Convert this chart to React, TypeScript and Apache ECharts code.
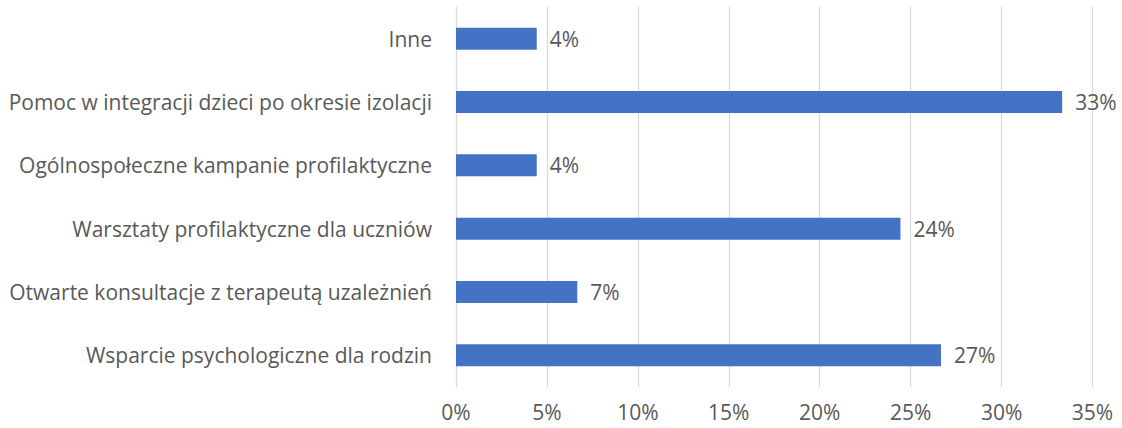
import React, { useEffect, useRef } from "react";
import * as echarts from "echarts";

const categories = [
  "Wsparcie psychologiczne dla rodzin",
  "Otwarte konsultacje z terapeutą uzależnień",
  "Warsztaty profilaktyczne dla uczniów",
  "Ogólnospołeczne kampanie profilaktyczne",
  "Pomoc w integracji dzieci po okresie izolacji",
  "Inne",
];
const values = [0.2667, 0.0667, 0.2444, 0.0444, 0.3333, 0.0444];
const xTicks = [0, 0.05, 0.1, 0.15, 0.2, 0.25, 0.3, 0.35];

const FONT = "Open Sans";
const TEXT = "#595959";
const FS = 21;

export default function App() {
  const ref = useRef<HTMLDivElement>(null);
  useEffect(() => {
    const chart = echarts.init(ref.current!, null, { renderer: "svg" });
    chart.setOption({
      animation: false,
      grid: { left: 456, right: 29.5, top: 7, bottom: 41, containLabel: false },
      xAxis: {
        type: "value",
        min: xTicks[0],
        max: xTicks[xTicks.length - 1],
        interval: 0.05,
        axisLine: { show: false },
        axisTick: { show: false },
        splitLine: { show: true, lineStyle: { color: "#D9D9D9", width: 1.3 } },
        axisLabel: {
          color: TEXT,
          fontFamily: FONT,
          fontSize: FS,
          margin: 14,
          formatter: (v: number) => Math.round(v * 100) + "%",
        },
      },
      yAxis: {
        type: "category",
        data: categories,
        axisLine: { show: false },
        axisTick: { show: false },
        splitLine: { show: false },
        axisLabel: { color: TEXT, fontFamily: FONT, fontSize: FS, margin: 24 },
      },
      series: [
        {
          type: "bar",
          data: values,
          barWidth: 22,
          itemStyle: { color: "#4472C4" },
          label: {
            show: true,
            position: "right",
            distance: 13,
            color: TEXT,
            fontFamily: FONT,
            fontSize: FS,
            formatter: (p: any) => Math.round(p.value * 100) + "%",
          },
        },
      ],
    });
    return () => chart.dispose();
  }, []);
  return (
    <div
      ref={ref}
      style={{ position: "fixed", left: 0, top: 0, width: 1122, height: 428, background: "#fff" }}
    />
  );
}
